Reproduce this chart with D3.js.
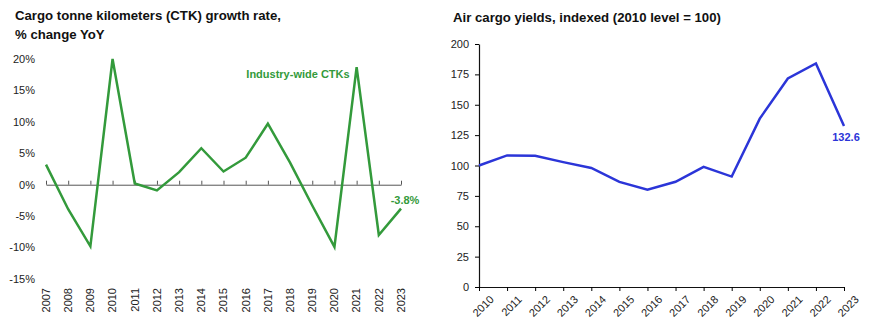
<!DOCTYPE html>
<html><head><meta charset="utf-8">
<script src="https://cdn.jsdelivr.net/npm/d3@7"></script>
<style>
body{margin:0;background:#fff;}
svg text{font-family:"Liberation Sans",Arial,Helvetica,sans-serif;}
</style></head>
<body><svg id="c" width="880" height="326"></svg>
<script>
const ctkYears = [2007,2008,2009,2010,2011,2012,2013,2014,2015,2016,2017,2018,2019,2020,2021,2022,2023];
const ctkGrowth = [3.2,-3.9,-9.8,20.0,0.2,-0.9,2.0,5.8,2.1,4.3,9.7,3.5,-3.3,-9.9,18.7,-8.0,-3.8];
const ctkTicks = [20,15,10,5,0,-5,-10,-15];
const yieldYears = [2010,2011,2012,2013,2014,2015,2016,2017,2018,2019,2020,2021,2022,2023];
const yieldIndex = [100,108.3,108,102.8,98,86.5,80,86.6,98.9,90.9,138.6,171.6,184,132.6];
const yieldTicks = [0,25,50,75,100,125,150,175,200];

const green = "#339a3b", blue = "#2b35d8", ink = "#222";
const fmt1 = v => v.toFixed(1);
const svg = d3.select("#c");

// ---------- Left chart ----------
svg.append("text").attr("x",15).attr("y",20).attr("font-size",13.2).attr("font-weight",700).attr("fill","#111")
  .text("Cargo tonne kilometers (CTK) growth rate,");
svg.append("text").attr("x",15).attr("y",39).attr("font-size",13.2).attr("font-weight",700).attr("fill","#111")
  .text("% change YoY");

const xL = d3.scalePoint().domain(ctkYears).range([46,401]);
const yL = d3.scaleLinear().domain([-15,20]).range([279,59]);
const gL = svg.append("g");
gL.selectAll(".yl").data(ctkTicks).join("text")
  .attr("x",35).attr("y",d=>yL(d)).attr("dy","0.35em").attr("text-anchor","end")
  .attr("font-size",11).attr("fill",ink).text(d=>d+"%");
const axL = gL.append("g").attr("transform",`translate(0,${yL(0)})`)
  .call(d3.axisBottom(xL).tickSizeInner(-4).tickSizeOuter(0).tickFormat(""));
axL.select(".domain").attr("stroke","#555");
axL.selectAll(".tick line").attr("stroke","#555");
gL.selectAll(".xl").data(ctkYears).join("text")
  .attr("transform",d=>`translate(${xL(d)},288) rotate(-90)`)
  .attr("dy","0.35em").attr("text-anchor","end").attr("font-size",11).attr("fill",ink).text(d=>d);
gL.append("path").datum(ctkYears.map((y,i)=>[y,ctkGrowth[i]]))
  .attr("fill","none").attr("stroke",green).attr("stroke-width",2.5)
  .attr("d",d3.line().x(d=>xL(d[0])).y(d=>yL(d[1])));
gL.append("text").attr("x",298).attr("y",78).attr("text-anchor","middle").attr("font-size",11)
  .attr("font-weight",700).attr("fill",green).text("Industry-wide CTKs");
gL.append("text").attr("x",xL(2023)+4).attr("y",204).attr("text-anchor","middle").attr("font-size",11)
  .attr("font-weight",700).attr("fill",green).text(fmt1(ctkGrowth[ctkGrowth.length-1])+"%");

// ---------- Right chart ----------
svg.append("text").attr("x",453).attr("y",22).attr("font-size",13.2).attr("font-weight",700).attr("fill","#111")
  .text("Air cargo yields, indexed (2010 level = 100)");
const xR = d3.scalePoint().domain(yieldYears).range([479,844]);
const yR = d3.scaleLinear().domain([0,200]).range([287,44]);
const gR = svg.append("g");
const ayR = gR.append("g").attr("transform","translate(479,0)")
  .call(d3.axisLeft(yR).tickValues(yieldTicks).tickSizeInner(4).tickSizeOuter(0).tickPadding(6));
ayR.selectAll("text").attr("font-size",11).attr("fill",ink).attr("font-family",null);
ayR.select(".domain").attr("stroke","#111").attr("stroke-width",1.2);
const axR = gR.append("g").attr("transform","translate(0,287)")
  .call(d3.axisBottom(xR).tickSizeInner(4).tickSizeOuter(0).tickPadding(4));
axR.select(".domain").attr("stroke","#111").attr("stroke-width",1.2);
axR.selectAll("text").attr("font-size",11).attr("fill",ink).attr("font-family",null)
  .attr("text-anchor","end").attr("transform","translate(4,2) rotate(-45)").attr("dy","0.7em");
gR.append("path").datum(yieldYears.map((y,i)=>[y,yieldIndex[i]]))
  .attr("fill","none").attr("stroke",blue).attr("stroke-width",2.5)
  .attr("d",d3.line().x(d=>xR(d[0])).y(d=>yR(d[1])));
gR.append("text").attr("x",xR(2023)+2).attr("y",141).attr("text-anchor","middle").attr("font-size",11)
  .attr("font-weight",700).attr("fill",blue).text(fmt1(yieldIndex[yieldIndex.length-1]));
</script></body></html>
